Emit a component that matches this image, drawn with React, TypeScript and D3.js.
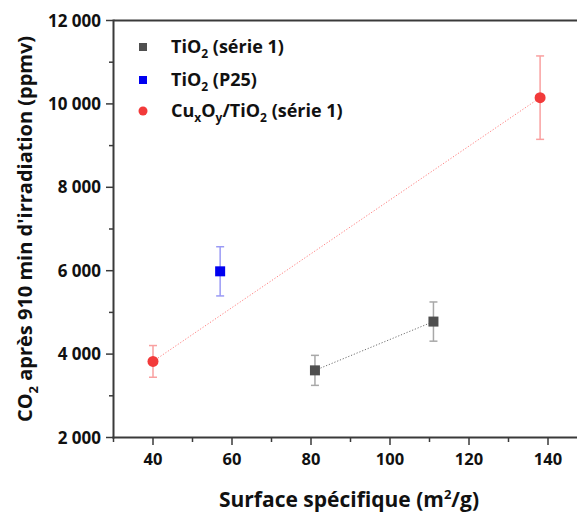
import React from "react";
import * as d3 from "d3";

const tio2X = [81, 111];
const tio2Y = [3610, 4780];
const tio2Err = [360, 470];

const p25X = [57];
const p25Y = [5985];
const p25Err = [590];

const cuX = [40, 138];
const cuY = [3825, 10150];
const cuErr = [380, 1000];

const yTicks = [2000, 4000, 6000, 8000, 10000, 12000];
const yMinor = [3000, 5000, 7000, 9000, 11000];
const xTicks = [40, 60, 80, 100, 120, 140];
const xMinor = [30, 50, 70, 90, 110, 130, 150];

const W = 577;
const H = 513;
const FONT = "'Open Sans', 'DejaVu Sans', sans-serif";

const x = d3.scaleLinear().domain([30, 150]).range([113.5, 587.5]);
const y = d3.scaleLinear().domain([2000, 12000]).range([437.5, 20.5]);

const fmt = (v: number) => {
  const s = String(v);
  if (v >= 1000) return s.slice(0, s.length - 3) + " " + s.slice(-3);
  return s;
};

function ErrorBars({ xs, ys, errs, color }: { xs: number[]; ys: number[]; errs: number[]; color: string }) {
  return (
    <g stroke={color} strokeWidth={1.5} fill="none">
      {xs.map((xv, i) => {
        const cx = x(xv);
        const top = y(ys[i] + errs[i]);
        const bot = y(ys[i] - errs[i]);
        return (
          <g key={i}>
            <line x1={cx} x2={cx} y1={top} y2={bot} />
            <line x1={cx - 4} x2={cx + 4} y1={top} y2={top} />
            <line x1={cx - 4} x2={cx + 4} y1={bot} y2={bot} />
          </g>
        );
      })}
    </g>
  );
}

export default function App() {
  const line = d3.line<[number, number]>().x((d) => x(d[0])).y((d) => y(d[1]));
  const tioPts = tio2X.map((v, i) => [v, tio2Y[i]] as [number, number]);
  const cuPts = cuX.map((v, i) => [v, cuY[i]] as [number, number]);
  const axisColor = "#3a3a3a";
  return (
    <svg width={W} height={H} style={{ position: "absolute", left: 0, top: 0, background: "#fff" }} fontFamily={FONT}>
      {/* frame */}
      <line x1={113.5} x2={W} y1={20.5} y2={20.5} stroke={axisColor} strokeWidth={2} />
      <line x1={113.5} x2={113.5} y1={19.5} y2={438.5} stroke={axisColor} strokeWidth={2} />
      <line x1={112.5} x2={W} y1={437.5} y2={437.5} stroke={axisColor} strokeWidth={2} />

      {/* y ticks */}
      {yTicks.map((t) => (
        <g key={t}>
          <line x1={106} x2={113} y1={y(t)} y2={y(t)} stroke={axisColor} strokeWidth={1.5} />
          <text x={101} y={y(t)} dy="0.36em" textAnchor="end" fontSize={17} fontWeight={700} fill="#111">
            {fmt(t)}
          </text>
        </g>
      ))}
      {yMinor.map((t) => (
        <line key={t} x1={109} x2={113} y1={y(t)} y2={y(t)} stroke={axisColor} strokeWidth={1.5} />
      ))}

      {/* x ticks */}
      {xTicks.map((t) => (
        <g key={t}>
          <line x1={x(t)} x2={x(t)} y1={438} y2={445} stroke={axisColor} strokeWidth={1.5} />
          <text x={x(t)} y={465} textAnchor="middle" fontSize={16.5} fontWeight={700} fill="#111">
            {t}
          </text>
        </g>
      ))}
      {xMinor.map((t) => (
        <line key={t} x1={x(t)} x2={x(t)} y1={438} y2={442} stroke={axisColor} strokeWidth={1.5} />
      ))}

      {/* axis titles */}
      <text x={349} y={507} textAnchor="middle" fontSize={21} fontWeight={700} fill="#111">
        Surface spécifique (m
        <tspan dy={-8} fontSize={13}>2</tspan>
        <tspan dy={8}>/g)</tspan>
      </text>
      <text transform="translate(32,229) rotate(-90)" textAnchor="middle" fontSize={20} fontWeight={700} fill="#111">
        CO<tspan dy={6} fontSize={13}>2</tspan>
        <tspan dy={-6}> après 910 min d'irradiation (ppmv)</tspan>
      </text>

      {/* fit lines */}
      <path d={line(cuPts) || ""} stroke="#ff8080" strokeWidth={1} strokeDasharray="1.2,1.8" fill="none" />
      <path d={line(tioPts) || ""} stroke="#707070" strokeWidth={1} strokeDasharray="1.2,1.8" fill="none" />

      {/* error bars */}
      <ErrorBars xs={cuX} ys={cuY} errs={cuErr} color="#f9a0a0" />
      <ErrorBars xs={p25X} ys={p25Y} errs={p25Err} color="#9a9af5" />
      <ErrorBars xs={tio2X} ys={tio2Y} errs={tio2Err} color="#a8a8a8" />

      {/* points */}
      {tio2X.map((v, i) => (
        <rect key={"t" + i} x={x(v) - 5} y={y(tio2Y[i]) - 5} width={10} height={10} fill="#4f4f4f" />
      ))}
      {p25X.map((v, i) => (
        <rect key={"p" + i} x={x(v) - 5} y={y(p25Y[i]) - 5} width={10} height={10} fill="#0000f0" />
      ))}
      {cuX.map((v, i) => (
        <circle key={"c" + i} cx={x(v)} cy={y(cuY[i])} r={5.5} fill="#f23a3a" />
      ))}

      {/* legend */}
      <g fontSize={18} fontWeight={700} fill="#111">
        <rect x={139} y={43} width={8} height={8} fill="#4f4f4f" />
        <text x={171} y={53}>
          TiO<tspan dy={5} fontSize={12}>2</tspan>
          <tspan dy={-5}> (série 1)</tspan>
        </text>
        <rect x={139} y={76} width={8} height={8} fill="#0000f0" />
        <text x={171} y={86}>
          TiO<tspan dy={5} fontSize={12}>2</tspan>
          <tspan dy={-5}> (P25)</tspan>
        </text>
        <circle cx={143} cy={111} r={4.5} fill="#f23a3a" />
        <text x={171} y={117}>
          Cu<tspan dy={5} fontSize={12}>x</tspan>
          <tspan dy={-5}>O</tspan>
          <tspan dy={5} fontSize={12}>y</tspan>
          <tspan dy={-5}>/TiO</tspan>
          <tspan dy={5} fontSize={12}>2</tspan>
          <tspan dy={-5}> (série 1)</tspan>
        </text>
      </g>
    </svg>
  );
}
